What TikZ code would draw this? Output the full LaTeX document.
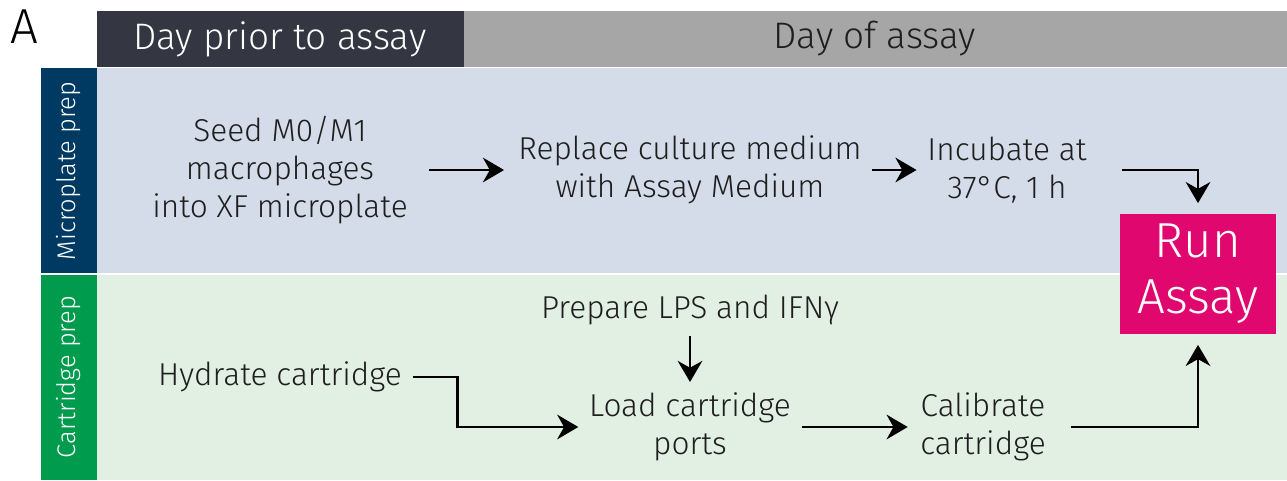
\documentclass[tikz,border=0pt]{standalone}
\usepackage{fontspec}
\setmainfont{Fira Sans Light}
\usetikzlibrary{
    positioning,
    arrows.meta
}
\definecolor{cabOscuro}{RGB}{52,54,65}
\definecolor{cabGris}{RGB}{166,166,166}
\definecolor{placaAzul}{RGB}{0,58,99}
\definecolor{placaFondo}{RGB}{213,220,233}
\definecolor{cartVerde}{RGB}{0,155,77}
\definecolor{cartFondo}{RGB}{226,239,227}
\definecolor{ensayo}{RGB}{224,7,110}
\definecolor{texto}{RGB}{30,30,30}
\tikzset{
    >=Stealth,
    paso/.style={
        align=center,
        inner sep=6pt,
        text=texto,
        font=\fontsize{18}{21.6}\selectfont
    },
    flecha/.style={
        -{Stealth[length=12pt,width=14pt]},
        line width=1.5pt
    }
}

\begin{document}
\begin{tikzpicture}[
    x=0.02cm,
    y=-0.02cm
]

    \useasboundingbox (0,0) rectangle (1287,480);

    % Encabezados
    \node[font=\fontsize{28}{32}\selectfont] (letra) at (24,27) {A};
    \fill[cabOscuro] (97,11) rectangle (464,67);
    \fill[cabGris]   (464,11) rectangle (1287,67);
    \node[text=white, font=\fontsize{21}{25}\selectfont]
        (previo) at (280,39) {Day prior to assay};
    \node[text=texto, font=\fontsize{21}{25}\selectfont]
        (dia) at (875,39) {Day of assay};

    % Franjas
    \fill[placaAzul]  (41,68) rectangle (97,273);
    \fill[placaFondo] (97,68) rectangle (1287,273);
    \fill[cartVerde]  (41,275) rectangle (97,480);
    \fill[cartFondo]  (97,275) rectangle (1287,480);
    \node[rotate=90, text=white, font=\fontsize{14.5}{18}\selectfont]
        (placa) at (69,171) {Microplate prep};
    \node[rotate=90, text=white, font=\fontsize{14.5}{18}\selectfont]
        (cart) at (69,377) {Cartridge prep};

    % Pasos
    \node[paso] (seed)      at (280,170)  {Seed M0/M1\\macrophages\\into XF microplate};
    \node[paso] (replace)   at (690,170)  {Replace culture medium\\with Assay Medium};
    \node[paso] (incubate)  at (1007,170) {Incubate at\\37°C, 1 h};
    \node[paso] (prepare)   at (690,310)  {Prepare LPS and IFNγ};
    \node[paso] (hydrate)   at (280,377)  {Hydrate cartridge};
    \node[paso] (load)      at (690,427)  {Load cartridge\\ports};
    \node[paso] (calibrate) at (983,427)  {Calibrate\\cartridge};

    \node[
        fill=ensayo,
        text=white,
        align=center,
        minimum width=3.12cm,
        minimum height=2.4cm,
        font=\fontsize{28}{32}\selectfont
    ] (run) at (1198,274) {Run\\Assay};

    % Conexiones
    \draw[flecha, shorten <=6pt, shorten >=2pt] (seed) -- (replace);
    \draw[flecha] (replace) -- (incubate);
    \draw[flecha, shorten <=14pt, shorten >=6pt]
        (incubate.east) -| (run.north);
    \draw[flecha] (prepare) -- (load);
    \draw[flecha] (hydrate.east) -- ++(45,0) |- (load.west);
    \draw[flecha, shorten >=1pt] (load) -- (calibrate);
    \draw[flecha, shorten <=8pt, shorten >=6pt]
        (calibrate.east) -| (run.south);

\end{tikzpicture}
\end{document}
